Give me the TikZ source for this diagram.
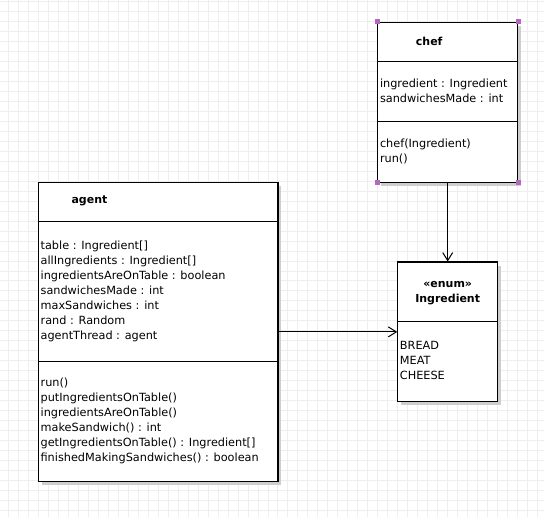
\documentclass[tikz,border=0pt]{standalone}
\usepackage{fontspec}
\setmainfont{DejaVu Sans}
\usetikzlibrary{shadows, arrows.meta, positioning}
\definecolor{gridgray}{RGB}{238,238,238}
\definecolor{handlepurple}{RGB}{180,102,192}
\definecolor{shadowgray}{RGB}{206,206,206}

\begin{document}
\begin{tikzpicture}[x=1pt,y=-1pt,
    classbox/.style={rectangle,draw=black,fill=white,line width=1.1pt,inner sep=0pt,
        drop shadow={shadow xshift=3.5pt,shadow yshift=-3.5pt,fill=shadowgray,opacity=1}},
    members/.style={anchor=base west,align=left,inner sep=0pt,font=\fontsize{11.3}{15}\selectfont},
    classname/.style={inner sep=0pt,font=\fontsize{11}{15}\selectfont\bfseries},
    sepline/.style={line width=1pt},
    assoc/.style={-{Straight Barb[length=8pt,width=10pt]},line width=1pt},
    handle/.style={rectangle,fill=handlepurple,minimum size=5pt,inner sep=0pt},
    gridline/.style={gridgray,line width=1pt}]

    % Raster
    \fill[white] (0,0) rectangle (544,517);
    \foreach \gx in {8,18,...,538} \draw[gridline] (\gx,0) -- (\gx,517);
    \foreach \gy in {1,11,...,511} \draw[gridline] (0,\gy) -- (544,\gy);
    \useasboundingbox (0,0) rectangle (544,517);

    % chef (Basislinie = letzte Zeile)
    \node[classbox,minimum width=140pt,minimum height=160pt] (chef) at (448,102) {};
    \draw[sepline] (chef.west |- 0,61.5) -- (chef.east |- 0,61.5);
    \draw[sepline] (chef.west |- 0,121.5) -- (chef.east |- 0,121.5);
    \node[classname,anchor=base west] (chefname) at (416,45) {chef};
    \node[members] (chefattr) at (380,102.5) {ingredient : Ingredient\\sandwichesMade : int};
    \node[members] (chefops) at (380,162.3) {chef(Ingredient)\\run()};
    \foreach \corner in {north west,north east,south west,south east}
        \node[handle] at (chef.\corner) {};

    % agent
    \node[classbox,minimum width=240pt,minimum height=300pt] (agent) at (158,332) {};
    \draw[sepline] (agent.west |- 0,221.5) -- (agent.east |- 0,221.5);
    \draw[sepline] (agent.west |- 0,361.5) -- (agent.east |- 0,361.5);
    \node[classname,anchor=base west] (agentname) at (71,203.3) {agent};
    \node[members] (agentattr) at (40,339.5) {table : Ingredient[]\\allIngredients : Ingredient[]\\ingredientsAreOnTable : boolean\\sandwichesMade : int\\maxSandwiches : int\\rand : Random\\agentThread : agent};
    \node[members] (agentops) at (40,461.8) {run()\\putIngredientsOnTable()\\ingredientsAreOnTable()\\makeSandwich() : int\\getIngredientsOnTable() : Ingredient[]\\finishedMakingSandwiches() : boolean};

    % Ingredient
    \node[classbox,minimum width=100pt,minimum height=140pt] (ingredient) at (448,332) {};
    \draw[sepline] (ingredient.west |- 0,321.5) -- (ingredient.east |- 0,321.5);
    \node[classname,anchor=base,align=center] (ingredientname) at (448,302.3) {«enum»\\Ingredient};
    \node[members] (ingredientvals) at (400,379.3) {BREAD\\MEAT\\CHEESE};

    % Assoziationen
    \draw[assoc] (chef) -- (ingredient);
    \draw[assoc] (agent) -- (ingredient);
\end{tikzpicture}
\end{document}
